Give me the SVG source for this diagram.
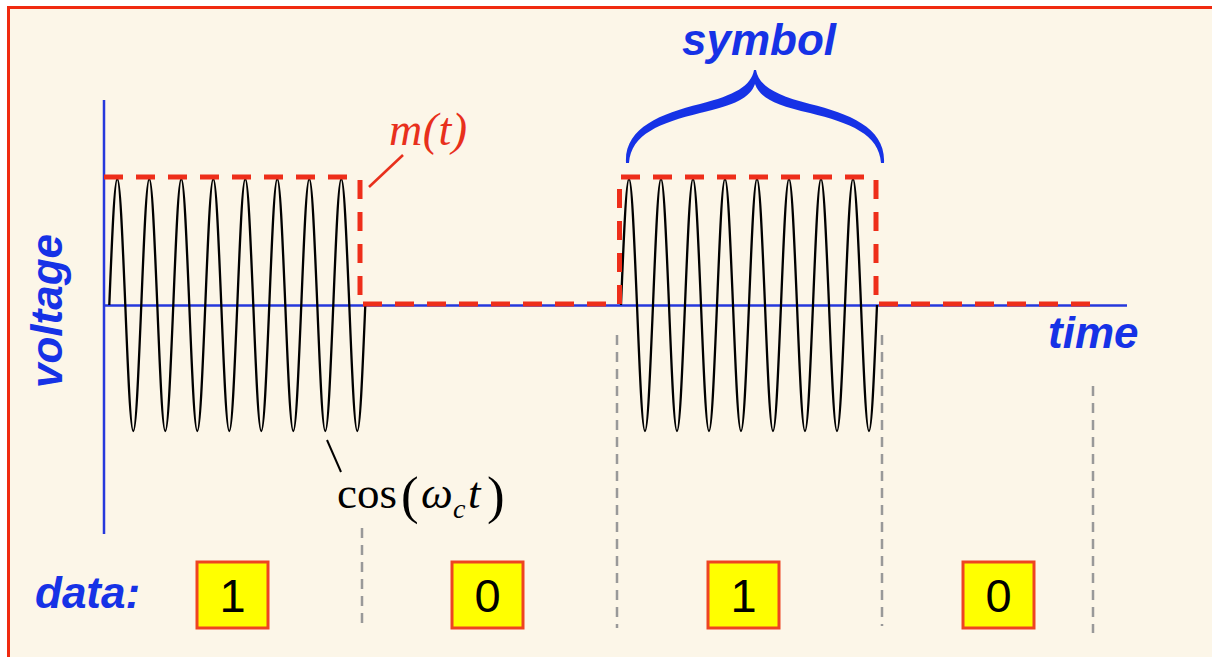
<svg xmlns="http://www.w3.org/2000/svg" width="1212" height="657" viewBox="0 0 1212 657">
<style>
.lbl{font-family:"Liberation Sans",Arial,sans-serif;font-weight:bold;font-style:italic;font-size:44px;fill:#1632E6}
.axis{stroke:#2638DC;stroke-width:2.5;fill:none}
.carrier{stroke:#000;stroke-width:2.3;fill:none}
.msg{stroke:#EE2E1A;stroke-width:5;fill:none;stroke-dasharray:19 13}
.sep{stroke:#999;stroke-width:2.5;stroke-dasharray:10 7;fill:none}
.box{fill:#FFFF00;stroke:#EE4422;stroke-width:3}
.digit{font-family:"Liberation Sans",Arial,sans-serif;font-size:47px;fill:#000;text-anchor:middle}
.serif{font-family:"Liberation Serif","Times New Roman",serif}
</style>
<rect x="0" y="0" width="1212" height="657" fill="#FFFFFF"/>
<rect x="8" y="7" width="1204" height="650" fill="#FCF6E8"/>
<path d="M8.5 657 V7.5 H1212" stroke="#F02A10" stroke-width="3" fill="none"/>

<g id="axes">
<path class="axis" d="M104 100 V534"/>
<path class="axis" d="M104 305.5 H1127"/>
</g>

<g id="carrier">
<path class="carrier" d="M109.3 305
c 2.61,-64.5 5.1,-126 8,-126 c 2.9,0 5.39,64.5 8,126 c 2.61,64.5 5.1,126 8,126 c 2.9,0 5.39,-64.5 8,-126
c 2.61,-64.5 5.1,-126 8,-126 c 2.9,0 5.39,64.5 8,126 c 2.61,64.5 5.1,126 8,126 c 2.9,0 5.39,-64.5 8,-126
c 2.61,-64.5 5.1,-126 8,-126 c 2.9,0 5.39,64.5 8,126 c 2.61,64.5 5.1,126 8,126 c 2.9,0 5.39,-64.5 8,-126
c 2.61,-64.5 5.1,-126 8,-126 c 2.9,0 5.39,64.5 8,126 c 2.61,64.5 5.1,126 8,126 c 2.9,0 5.39,-64.5 8,-126
c 2.61,-64.5 5.1,-126 8,-126 c 2.9,0 5.39,64.5 8,126 c 2.61,64.5 5.1,126 8,126 c 2.9,0 5.39,-64.5 8,-126
c 2.61,-64.5 5.1,-126 8,-126 c 2.9,0 5.39,64.5 8,126 c 2.61,64.5 5.1,126 8,126 c 2.9,0 5.39,-64.5 8,-126
c 2.61,-64.5 5.1,-126 8,-126 c 2.9,0 5.39,64.5 8,126 c 2.61,64.5 5.1,126 8,126 c 2.9,0 5.39,-64.5 8,-126
c 2.61,-64.5 5.1,-126 8,-126 c 2.9,0 5.39,64.5 8,126 c 2.61,64.5 5.1,126 8,126 c 2.9,0 5.39,-64.5 8,-126"/>
<path class="carrier" d="M621 305
c 2.61,-64.5 5.1,-126 8,-126 c 2.9,0 5.39,64.5 8,126 c 2.61,64.5 5.1,126 8,126 c 2.9,0 5.39,-64.5 8,-126
c 2.61,-64.5 5.1,-126 8,-126 c 2.9,0 5.39,64.5 8,126 c 2.61,64.5 5.1,126 8,126 c 2.9,0 5.39,-64.5 8,-126
c 2.61,-64.5 5.1,-126 8,-126 c 2.9,0 5.39,64.5 8,126 c 2.61,64.5 5.1,126 8,126 c 2.9,0 5.39,-64.5 8,-126
c 2.61,-64.5 5.1,-126 8,-126 c 2.9,0 5.39,64.5 8,126 c 2.61,64.5 5.1,126 8,126 c 2.9,0 5.39,-64.5 8,-126
c 2.61,-64.5 5.1,-126 8,-126 c 2.9,0 5.39,64.5 8,126 c 2.61,64.5 5.1,126 8,126 c 2.9,0 5.39,-64.5 8,-126
c 2.61,-64.5 5.1,-126 8,-126 c 2.9,0 5.39,64.5 8,126 c 2.61,64.5 5.1,126 8,126 c 2.9,0 5.39,-64.5 8,-126
c 2.61,-64.5 5.1,-126 8,-126 c 2.9,0 5.39,64.5 8,126 c 2.61,64.5 5.1,126 8,126 c 2.9,0 5.39,-64.5 8,-126
c 2.61,-64.5 5.1,-126 8,-126 c 2.9,0 5.39,64.5 8,126 c 2.61,64.5 5.1,126 8,126 c 2.9,0 5.39,-64.5 8,-126"/>
</g>

<g id="message">
<path class="msg" d="M104 177 H350"/>
<path class="msg" d="M360 180 V304"/>
<path class="msg" d="M363 304 H615"/>
<path class="msg" d="M619.5 304 V177"/>
<path class="msg" d="M621 177 H866"/>
<path class="msg" d="M876 180 V304"/>
<path class="msg" d="M879 304 H1092"/>
</g>

<g id="symbol-brace">
<path fill="#1632E6" d="M626 163 C624 128 660 114 700 104 C735 95 751 86 754 70 L756 70 C759 86 775 95 810 104 C850 114 886 128 884 163 L881 163 C879 134 850 123 810 113 C775 105 760 98 755 84 C750 98 735 105 700 113 C660 123 631 134 629 163 Z"/>
<text class="lbl" x="682" y="55">symbol</text>
</g>

<g id="labels">
<text class="lbl" transform="translate(62,311) rotate(-90)" text-anchor="middle">voltage</text>
<text class="lbl" x="1048" y="348">time</text>
<text class="lbl" x="35" y="608" font-size="46">data:</text>
<text class="serif" x="389" y="145" font-size="46" font-style="italic" fill="#E8301C" letter-spacing="0.5">m(t)</text>
<text class="serif" font-size="45" fill="#000"><tspan x="337" y="508">cos</tspan><tspan x="401" y="513" font-size="53">(</tspan><tspan x="421" y="508" font-style="italic">ω</tspan><tspan x="453" y="518" font-size="28" font-style="italic">c</tspan><tspan x="468" y="508" font-style="italic">t</tspan><tspan x="487" y="513" font-size="53">)</tspan></text>
</g>

<g id="connectors">
<path d="M403 155 L369 187" stroke="#E8301C" stroke-width="2.5" fill="none"/>
<path d="M327 440 L341 472" stroke="#000" stroke-width="2" fill="none"/>
<path class="sep" d="M362 528 V628"/>
<path class="sep" d="M617 335 V628"/>
<path class="sep" d="M882 335 V626"/>
<path class="sep" d="M1093 386 V633"/>
</g>

<g id="data-1a"><rect class="box" x="197" y="562" width="71" height="66"/><text class="digit" x="232.5" y="612">1</text></g>
<g id="data-0a"><rect class="box" x="452" y="562" width="71" height="66"/><text class="digit" x="487.5" y="612">0</text></g>
<g id="data-1b"><rect class="box" x="708" y="562" width="71" height="66"/><text class="digit" x="743.5" y="612">1</text></g>
<g id="data-0b"><rect class="box" x="963" y="562" width="71" height="66"/><text class="digit" x="998.5" y="612">0</text></g>
</svg>
